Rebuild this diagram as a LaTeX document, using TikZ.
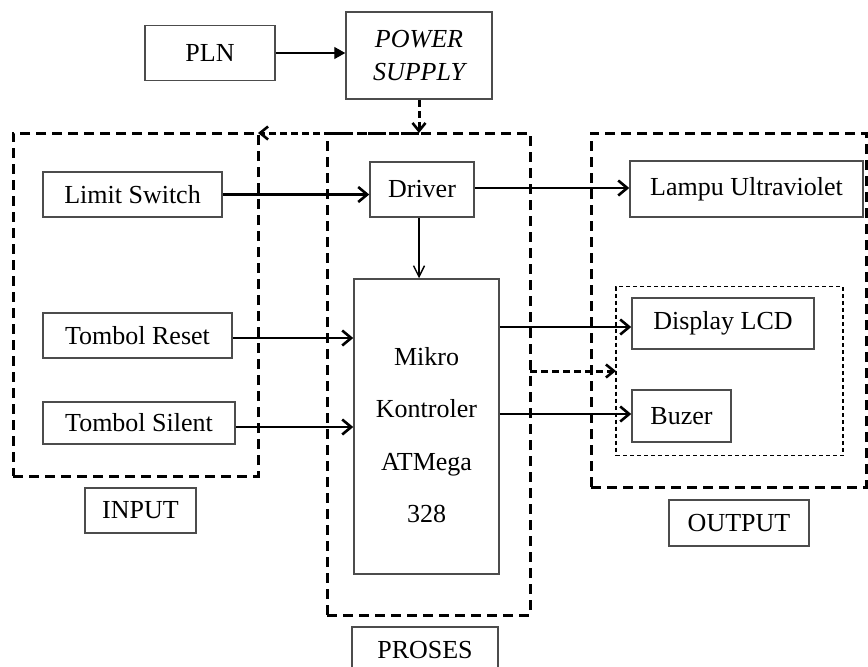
\documentclass[tikz,border=0pt]{standalone}
\usepackage{fontspec}
\setmainfont{Liberation Serif}
\usetikzlibrary{arrows.meta,calc}
\begin{document}
\begin{tikzpicture}[x=1pt,y=-1pt,
  box/.style={draw=black!70, line width=1.5pt, inner sep=0pt, font=\fontsize{26}{31}\selectfont},
  grpbox/.style={draw, line width=3pt, dash pattern=on 10pt off 6pt, inner sep=0pt, outer sep=0pt},
  subgrp/.style={draw, line width=1.4pt, dash pattern=on 4pt off 3pt, inner sep=0pt, outer sep=0pt},
  bigarrow/.style={line width=2.6pt, -{Straight Barb[length=9pt,width=15pt]}},
  thinbarb/.style={line width=1.4pt, -{Straight Barb[length=11pt,width=11pt]}},
  pwrarrow/.style={line width=1.4pt, -{Triangle[length=11pt,width=12pt]}},
  dasharrow/.style={line width=3pt, dash pattern=on 7pt off 4pt, -{Straight Barb[length=8pt,width=13pt,line width=2.6pt]}}
]
\useasboundingbox (0,0) rectangle (868,667);

% group boxes
\node[grpbox, minimum width=245, minimum height=343] (ingrp) at (135.5,304.5) {};
\node[grpbox, minimum width=203, minimum height=482] (prgrp) at (428.5,374) {};
\node[grpbox, minimum width=275, minimum height=354] (outgrp) at (728.5,310) {};
\node[subgrp, minimum width=227, minimum height=169] (subg) at (729.5,371) {};

% blocks
\node[box, minimum width=130, minimum height=55] (pln) at (210,53) {PLN};
\node[box, minimum width=146, minimum height=87, align=center, font=\fontsize{26}{33}\selectfont\itshape] (ps) at (419,55.5) {POWER\\SUPPLY};
\node[box, minimum width=179, minimum height=45] (ls) at (132.5,194.5) {Limit Switch};
\node[box, minimum width=189, minimum height=45] (tr) at (137.5,335.5) {Tombol Reset};
\node[box, minimum width=192, minimum height=42] (ts) at (139,423) {Tombol Silent};
\node[box, minimum width=104, minimum height=55] (drv) at (422,189.5) {Driver};
\node[box, minimum width=145, minimum height=295] (mk) at (426.5,426.5) {};
\node[font=\fontsize{26}{52.5}\selectfont, align=center, inner sep=0pt] (mktext) at (426.5,435) {Mikro\\Kontroler\\ATMega\\328};
\node[box, minimum width=233, minimum height=56] (uv) at (746.5,189) {Lampu Ultraviolet};
\node[box, minimum width=182, minimum height=51] (lcd) at (723,323.5) {Display LCD};
\node[box, minimum width=99, minimum height=52] (bz) at (681.5,416) {Buzer};
\node[box, minimum width=111, minimum height=45] (inlbl) at (140.5,510.5) {INPUT};
\node[box, minimum width=140, minimum height=46] (outlbl) at (739,523) {OUTPUT};
\node[box, minimum width=146, minimum height=46] (prlbl) at (425,650) {PROSES};

% connectors
\draw[pwrarrow] (pln.east) -- (pln.east -| ps.west);
\draw[dasharrow] (ps.south) -- (ps.south |- prgrp.north);
\draw[dasharrow] (ps.south |- prgrp.north) -- (ingrp.north east);
\draw[bigarrow] (ls.east) -- (ls.east -| drv.west);
\draw[bigarrow] ([yshift=1.5pt]drv.east) -- ([yshift=1.5pt]drv.east -| uv.west);
\draw[thinbarb] ([xshift=-3pt]drv.south) -- ([xshift=-3pt]drv.south |- mk.north);
\draw[bigarrow] ([yshift=-2.5pt]tr.east) -- ([yshift=-2.5pt]tr.east -| mk.west);
\draw[bigarrow] ([yshift=-4pt]ts.east) -- ([yshift=-4pt]ts.east -| mk.west);
\draw[bigarrow] ([yshift=-3.5pt]lcd.west -| mk.east) -- ([yshift=-3.5pt]lcd.west);
\draw[bigarrow] ([yshift=2pt]bz.west -| mk.east) -- ([yshift=2pt]bz.west);
\draw[dasharrow] (prgrp.east |- subg.west) -- (subg.west);
\end{tikzpicture}
\end{document}
